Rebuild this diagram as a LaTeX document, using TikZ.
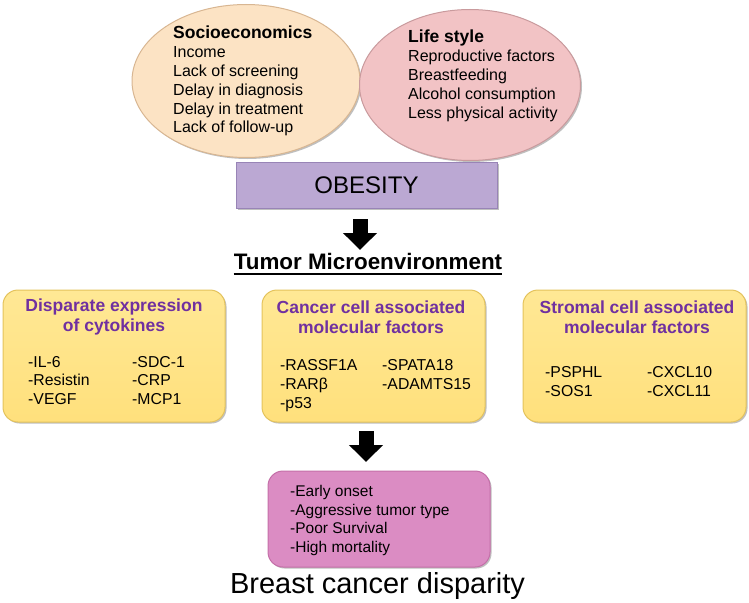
\documentclass[tikz,border=0pt]{standalone}
\usepackage{fontspec}
\setmainfont{Liberation Sans}
\usetikzlibrary{shapes.geometric,arrows.meta,shadows}

\definecolor{peach}{HTML}{FCE3C4}
\definecolor{peachline}{HTML}{D8B692}
\definecolor{rose}{HTML}{F2C3C5}
\definecolor{roseline}{HTML}{C99A9D}
\definecolor{lavender}{HTML}{BBA8D3}
\definecolor{lavenderline}{HTML}{9884B6}
\definecolor{gold}{HTML}{FFE07C}
\definecolor{goldtop}{HTML}{FFE895}
\definecolor{goldline}{HTML}{E4C35C}
\definecolor{orchid}{HTML}{DB8CC3}
\definecolor{orchidline}{HTML}{C46FA8}
\definecolor{titlepurple}{HTML}{7030A0}

\tikzset{
  softshadow/.style={drop shadow={shadow xshift=1.5pt, shadow yshift=-1.5pt, opacity=0.25, fill=black}},
  factorbox/.style={draw=goldline, line width=1pt, top color=goldtop, bottom color=gold, rounded corners=15pt, softshadow, minimum height=132pt},
  listtext/.style={font=\fontsize{15.8}{18.5}\selectfont, align=left, inner sep=0pt, anchor=north west},
  boxtitle/.style={font=\bfseries\fontsize{17.5}{20.5}\selectfont, text=titlepurple, align=center, inner sep=0pt},
  blockarrow/.style={line width=15pt, -{Triangle[length=17pt,width=33pt]}},
}

\begin{document}
\begin{tikzpicture}[x=1pt,y=-1pt]
\useasboundingbox (0,0) rectangle (749,602);

% causes
\node[ellipse, draw=peachline, line width=1pt, fill=peach, softshadow, minimum width=228pt, minimum height=153pt] (socio) at (246,81) {};
\node[ellipse, draw=roseline, line width=1pt, fill=rose, softshadow, minimum width=221pt, minimum height=151pt] (life) at (470,85) {};
\node[listtext, font=\fontsize{16}{18.8}\selectfont] (sociotext) at (173,26) {{\bfseries\fontsize{17.5}{18.8}\selectfont Socioeconomics}\\Income\\Lack of screening\\Delay in diagnosis\\Delay in treatment\\Lack of follow-up};
\node[listtext, font=\fontsize{16}{18.8}\selectfont] (lifetext) at (408,30) {{\bfseries\fontsize{17.5}{18.8}\selectfont Life style}\\Reproductive factors\\Breastfeeding\\Alcohol consumption\\Less physical activity};

\node[draw=lavenderline, line width=1pt, fill=lavender, softshadow, minimum width=261pt, minimum height=46pt, font=\fontsize{24}{28}\selectfont] (obesity) at (366.5,185) {OBESITY};

% tumor microenvironment
\coordinate (a1top) at (360,219);
\coordinate (a1tip) at (360,250);
\draw[blockarrow] (a1top) -- (a1tip);
\node[inner sep=0pt, font=\bfseries\fontsize{22.4}{26}\selectfont] (tumor) at (368,261) {Tumor Microenvironment};
\draw[line width=1.6pt] ([yshift=-5pt]tumor.base west) -- ([yshift=-5pt]tumor.base east);

\node[factorbox, minimum width=222pt] (cyto) at (114,356) {};
\node[boxtitle] (cytotitle) at (114,317) {Disparate expression\\of cytokines};
\node[listtext] (cytoa) at (28,356) {-IL-6\\-Resistin\\-VEGF};
\node[listtext] (cytob) at (132,356) {-SDC-1\\-CRP\\-MCP1};

\node[factorbox, minimum width=223pt] (cancer) at (373.5,356) {};
\node[boxtitle] (cancertitle) at (371,317) {Cancer cell associated\\molecular factors};
\node[listtext, font=\fontsize{15.8}{19}\selectfont] (cancera) at (280,359) {-RASSF1A\\-RARβ\\-p53};
\node[listtext, font=\fontsize{15.8}{19}\selectfont] (cancerb) at (382,359) {-SPATA18\\-ADAMTS15};

\node[factorbox, minimum width=223pt] (stroma) at (634.5,356) {};
\node[boxtitle] (stromatitle) at (637,317) {Stromal cell associated\\molecular factors};
\node[listtext, font=\fontsize{15.8}{19}\selectfont] (stromaa) at (545,366) {-PSPHL\\-SOS1};
\node[listtext, font=\fontsize{15.8}{19}\selectfont] (stromab) at (647,366) {-CXCL10\\-CXCL11};

% outcome
\coordinate (a2top) at (366,431);
\coordinate (a2tip) at (366,462);
\draw[blockarrow] (a2top) -- (a2tip);
\node[draw=orchidline, line width=1pt, fill=orchid, rounded corners=15pt, softshadow, minimum width=222pt, minimum height=96pt] (outcome) at (379,519) {};
\node[listtext, font=\fontsize{15.5}{18.7}\selectfont] (outcometext) at (290,485) {-Early onset\\-Aggressive tumor type\\-Poor Survival\\-High mortality};
\node[inner sep=0pt, font=\fontsize{29}{34}\selectfont] (disparity) at (377.5,586) {Breast cancer disparity};
\end{tikzpicture}
\end{document}
